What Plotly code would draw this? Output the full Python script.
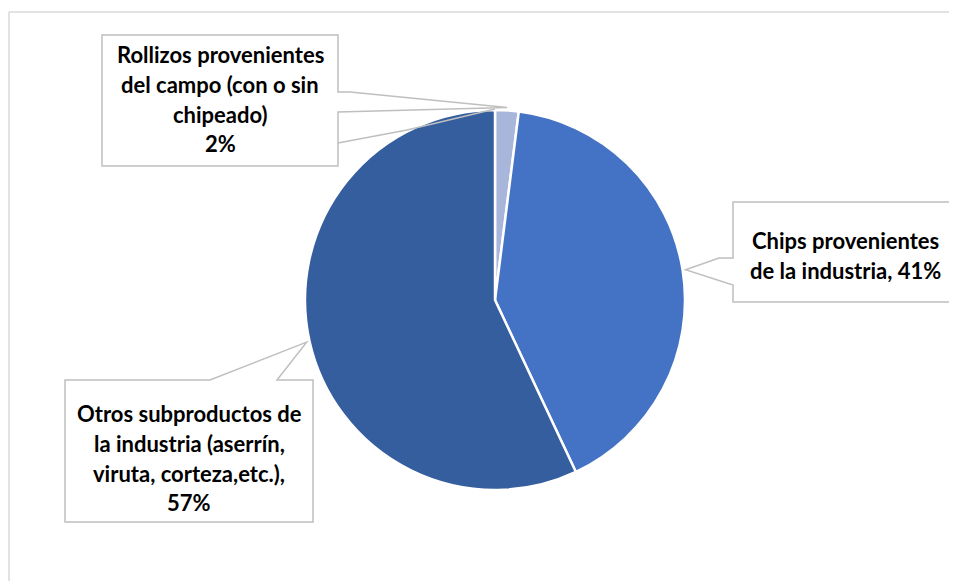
import math
import plotly.graph_objects as go

# ---- data ----
categories = [
    "Rollizos provenientes del campo (con o sin chipeado)",
    "Chips provenientes de la industria",
    "Otros subproductos de la industria (aserrín, viruta, corteza,etc.)",
]
values = [2, 41, 57]
colors = ["#a9b6dc", "#4472c4", "#355e9f"]
label_lines = [
    ["Rollizos provenientes", "del campo (con o sin", "chipeado)", "2%"],
    ["Chips provenientes", "de la industria, 41%"],
    ["Otros subproductos de", "la industria (aserrín,", "viruta, corteza,etc.),", "57%"],
]

# page body has an 8px margin, so the figure is offset by 8px
OFF = 8
W, H = 957 - OFF, 581 - OFF
CX, CY, R = 495, 300, 190


def px(x):
    return (x - OFF) / W


def py(y):
    return 1 - (y - OFF) / H


def edge_point(frac, rad):
    ang = 2 * math.pi * frac
    return CX + rad * math.sin(ang), CY - rad * math.cos(ang)


total = sum(values)
cum = [0]
for v in values:
    cum.append(cum[-1] + v)
mids = [(cum[i] + cum[i + 1]) / 2 / total for i in range(len(values))]
tips = [edge_point(m, R + 3) for m in mids]

fig = go.Figure(
    go.Pie(
        labels=categories,
        values=values,
        sort=False,
        direction="clockwise",
        rotation=0,
        marker=dict(colors=colors, line=dict(color="white", width=2.5)),
        textinfo="none",
        hoverinfo="label+percent",
        domain=dict(x=[px(CX - R), px(CX + R)], y=[py(CY + R), py(CY - R)]),
        showlegend=False,
    )
)


def path(points):
    return "M " + " L ".join(f"{px(x):.5f},{py(y):.5f}" for x, y in points) + " Z"


def path_open(points):
    return "M " + " L ".join(f"{px(x):.5f},{py(y):.5f}" for x, y in points)


grey = "#bfbfbf"
shapes = []
# outer chart border (top and left)
shapes.append(dict(type="line", xref="paper", yref="paper", x0=px(9), x1=px(957), y0=py(12), y1=py(12),
                   line=dict(color="#d9d9d9", width=1.5)))
shapes.append(dict(type="line", xref="paper", yref="paper", x0=px(9), x1=px(9), y0=py(12), y1=py(581),
                   line=dict(color="#d9d9d9", width=1.5)))

# callout boxes
t0, t1, t2 = tips
boxes = [
    [(102, 35), (338, 35), (338, 92), (350, 92), t0, (338, 112), (338, 166), (102, 166)],
    [(733, 202), (955, 202), (955, 302), (733, 302), (733, 285), t1, (719, 258), (733, 258)],
    [(65, 380), (210, 380), t2, (277, 380), (313, 380), (313, 522), (65, 522)],
]
for b in boxes:
    shapes.append(dict(type="path", xref="paper", yref="paper", path=path(b),
                       fillcolor="white", line=dict(color=grey, width=1.5)))
# leader line for the small slice
top = edge_point(0, R + 1)
shapes.append(dict(type="path", xref="paper", yref="paper",
                   path=path_open([(338, 143), (407, 130), top]),
                   line=dict(color=grey, width=1.5)))

font = dict(family="Lato, 'Open Sans', sans-serif", size=22, color="#000000")
centers = [(220, [54, 84, 114, 144]), (845, [240, 270]), (189, [413, 443, 473, 502])]
annotations = []
for (cxl, ys), lines in zip(centers, label_lines):
    for y, t in zip(ys, lines):
        annotations.append(dict(x=px(cxl), y=py(y), xref="paper", yref="paper", text=f"<b>{t}</b>",
                                showarrow=False, xanchor="center", yanchor="middle", font=font))

fig.update_layout(
    width=W, height=H,
    margin=dict(l=0, r=0, t=0, b=0),
    paper_bgcolor="white", plot_bgcolor="white",
    shapes=shapes, annotations=annotations,
)
fig.write_html("out.html")
